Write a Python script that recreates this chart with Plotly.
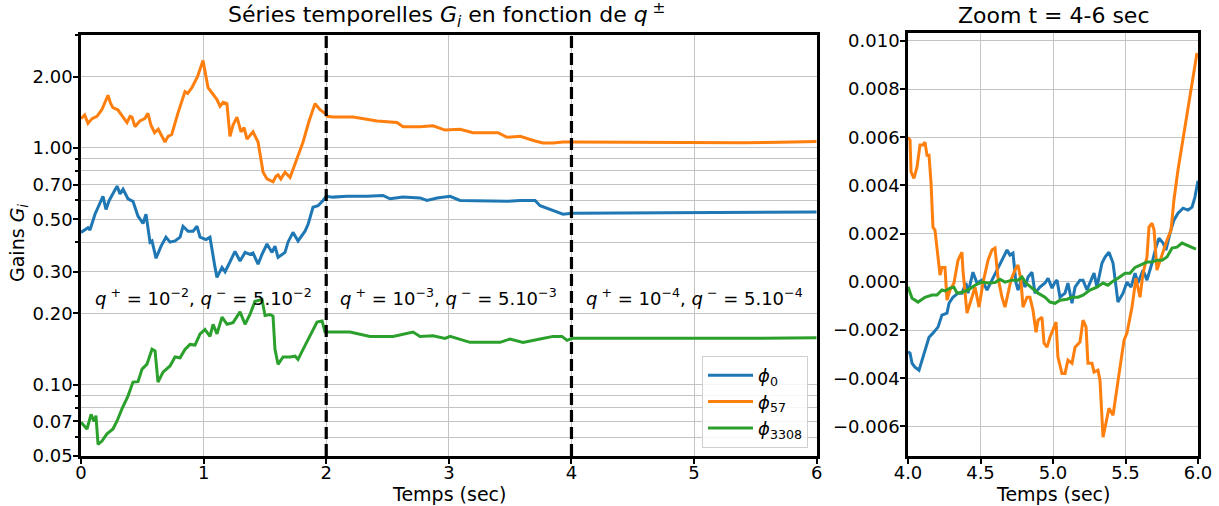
import plotly.graph_objects as go
import math

# ---------------- data ----------------
# Left panel: gains G_i over 0-6 s (log scale)
t_phi0 = [0.0, 0.016, 0.057, 0.073, 0.114, 0.179, 0.204, 0.23, 0.294, 0.318, 0.343, 0.383, 0.424, 0.465,
          0.506, 0.530, 0.563, 0.579, 0.612, 0.653, 0.693, 0.726, 0.767, 0.808, 0.832, 0.873, 0.914, 0.946,
          0.971, 1.020, 1.052, 1.093, 1.109, 1.150, 1.175, 1.215, 1.256, 1.297, 1.338, 1.378, 1.403, 1.444,
          1.476, 1.517, 1.558, 1.582, 1.607, 1.664, 1.688, 1.729, 1.770, 1.827, 1.852, 1.892, 1.933, 1.974,
          2.0, 2.055, 2.17, 2.333, 2.463, 2.52, 2.626, 2.765, 2.822, 2.904, 3.01, 3.091, 3.336, 3.475, 3.581,
          3.703, 3.744, 3.85, 3.931, 4.005, 4.5, 5.0, 5.5, 6.0]
g_phi0 = [0.44, 0.445, 0.46, 0.45, 0.525, 0.625, 0.55, 0.60, 0.69, 0.64, 0.67, 0.61, 0.595, 0.515,
          0.48, 0.525, 0.40, 0.405, 0.342, 0.385, 0.42, 0.40, 0.405, 0.42, 0.467, 0.445, 0.445, 0.467,
          0.42, 0.41, 0.42, 0.313, 0.284, 0.313, 0.30, 0.33, 0.366, 0.333, 0.362, 0.355, 0.36, 0.323,
          0.355, 0.393, 0.362, 0.385, 0.345, 0.362, 0.40, 0.44, 0.405, 0.445, 0.476, 0.562, 0.57, 0.60,
          0.625, 0.62, 0.625, 0.625, 0.63, 0.61, 0.62, 0.615, 0.60, 0.615, 0.625, 0.60, 0.595, 0.595, 0.60,
          0.60, 0.57, 0.546, 0.525, 0.53, 0.532, 0.533, 0.534, 0.536]

t_phi57 = [0.0, 0.03, 0.057, 0.09, 0.13, 0.17, 0.22, 0.24, 0.26, 0.3, 0.33, 0.375, 0.4, 0.416, 0.44, 0.48,
           0.52, 0.546, 0.57, 0.60, 0.63, 0.66, 0.685, 0.71, 0.74, 0.79, 0.848, 0.87, 0.905, 0.95, 0.995,
           1.036, 1.07, 1.109, 1.134, 1.16, 1.19, 1.215, 1.24, 1.272, 1.305, 1.33, 1.354, 1.38, 1.403, 1.444,
           1.485, 1.517, 1.566, 1.59, 1.607, 1.63, 1.664, 1.705, 1.762, 1.811, 1.86, 1.909, 1.949, 1.99,
           2.007, 2.055, 2.22, 2.414, 2.577, 2.626, 2.765, 2.871, 2.969, 3.091, 3.197, 3.401, 3.475, 3.581,
           3.703, 3.768, 3.85, 3.931, 4.005, 4.5, 5.0, 5.4, 5.7, 6.0]
g_phi57 = [1.33, 1.38, 1.27, 1.33, 1.36, 1.45, 1.67, 1.55, 1.48, 1.45, 1.38, 1.28, 1.36, 1.35, 1.23, 1.30,
           1.33, 1.40, 1.25, 1.16, 1.20, 1.12, 1.06, 1.12, 1.14, 1.40, 1.73, 1.70, 1.80, 2.0, 2.34,
           1.80, 1.70, 1.60, 1.50, 1.56, 1.54, 1.12, 1.25, 1.35, 1.17, 1.22, 1.09, 1.13, 1.17, 1.06,
           0.79, 0.74, 0.72, 0.76, 0.77, 0.74, 0.79, 0.75, 0.90, 1.06, 1.30, 1.54, 1.45, 1.40,
           1.36, 1.35, 1.35, 1.30, 1.28, 1.23, 1.23, 1.24, 1.19, 1.20, 1.16, 1.16, 1.11, 1.12,
           1.07, 1.05, 1.05, 1.06, 1.06, 1.057, 1.055, 1.053, 1.058, 1.065]

t_phi3308 = [0.0, 0.049, 0.082, 0.106, 0.122, 0.139, 0.171, 0.212, 0.261, 0.294, 0.334, 0.383, 0.424, 0.465,
             0.498, 0.538, 0.579, 0.604, 0.628, 0.669, 0.726, 0.767, 0.808, 0.848, 0.889, 0.930, 0.971,
             1.011, 1.052, 1.077, 1.109, 1.150, 1.191, 1.240, 1.297, 1.338, 1.378, 1.419, 1.476, 1.501,
             1.542, 1.566, 1.582, 1.607, 1.648, 1.705, 1.746, 1.770, 1.811, 1.884, 1.925, 1.966, 1.99,
             2.015, 2.194, 2.357, 2.545, 2.708, 2.765, 2.871, 2.969, 3.01, 3.173, 3.254, 3.418, 3.499,
             3.605, 3.744, 3.85, 3.923, 3.964, 4.005, 4.5, 5.0, 5.5, 6.0]
g_phi3308 = [0.0695, 0.065, 0.075, 0.07, 0.074, 0.056, 0.0578, 0.062, 0.065, 0.0703, 0.079, 0.0895, 0.1026, 0.103,
             0.1164, 0.1222, 0.1413, 0.139, 0.1026, 0.113, 0.12, 0.131, 0.130, 0.141, 0.148, 0.147, 0.164,
             0.171, 0.160, 0.180, 0.164, 0.193, 0.180, 0.183, 0.203, 0.18, 0.198, 0.225, 0.229, 0.196,
             0.198, 0.195, 0.141, 0.122, 0.131, 0.131, 0.132, 0.128, 0.141, 0.167, 0.184, 0.186, 0.167,
             0.167, 0.167, 0.160, 0.160, 0.167, 0.160, 0.161, 0.157, 0.160, 0.151, 0.151, 0.151, 0.156,
             0.151, 0.156, 0.160, 0.160, 0.154, 0.157, 0.157, 0.1565, 0.157, 0.158]

# Right panel: zoom t = 4-6 s
tz_phi0 = [4.0, 4.014, 4.028, 4.048, 4.076, 4.097, 4.117, 4.145, 4.172, 4.207, 4.234, 4.269, 4.283, 4.310,
           4.345, 4.372, 4.400, 4.414, 4.448, 4.476, 4.510, 4.545, 4.579, 4.621, 4.648, 4.683, 4.703, 4.724,
           4.745, 4.759, 4.786, 4.807, 4.828, 4.855, 4.876, 4.910, 4.945, 4.966, 4.993, 5.014, 5.028, 5.048,
           5.083, 5.103, 5.131, 5.152, 5.186, 5.207, 5.234, 5.255, 5.283, 5.303, 5.338, 5.359, 5.386, 5.414,
           5.434, 5.448, 5.483, 5.510, 5.538, 5.566, 5.586, 5.621, 5.648, 5.683, 5.710, 5.731, 5.759, 5.779,
           5.807, 5.834, 5.862, 5.897, 5.931, 5.959, 5.979, 5.993, 6.0]
vz_phi0 = [-0.0029, -0.00296, -0.00338, -0.00354, -0.00367, -0.00325, -0.00292, -0.0023, -0.00213, -0.00188,
           -0.00138, -0.0013, -0.00089, -0.00064, -0.00047, -0.00047, -0.00005, -0.00047, 0.0004, -0.00005,
           0.00007, -0.00034, 0.00007, 0.00057, 0.0009, 0.00132, 0.00111, 0.00119, -0.00005, -0.00034,
           0.00015, -0.00022, 0.0002, 0.0004, -0.00047, -0.00022, -0.00005, 0.00015, -0.00026, -0.00001,
           0.00007, -0.00064, -0.00047, -0.00005, -0.00089, -0.00022, 0.00007, 0.00007, -0.00034, -0.00005,
           0.00036, -0.00022, 0.00078, 0.00103, 0.00123, 0.00078, -0.00034, -0.00084, -0.00047, -0.00001,
           -0.00022, 0.00036, -0.00005, 0.00049, 0.00007, 0.00078, 0.00144, 0.00181, 0.00161, 0.00132,
           0.00202, 0.00256, 0.00285, 0.00306, 0.00298, 0.0031, 0.00352, 0.0041, 0.0042]

tz_phi57 = [4.0, 4.014, 4.021, 4.041, 4.062, 4.083, 4.103, 4.117, 4.131, 4.145, 4.159, 4.172, 4.186, 4.2, 4.207,
            4.221, 4.234, 4.255, 4.269, 4.29, 4.317, 4.345, 4.372, 4.379, 4.407, 4.428, 4.448, 4.462, 4.49,
            4.517, 4.552, 4.579, 4.6, 4.621, 4.634, 4.648, 4.669, 4.69, 4.71, 4.738, 4.759, 4.779, 4.793,
            4.821, 4.841, 4.862, 4.883, 4.897, 4.924, 4.938, 4.959, 4.979, 5.0, 5.021, 5.034, 5.062, 5.083,
            5.103, 5.131, 5.152, 5.186, 5.207, 5.228, 5.241, 5.269, 5.283, 5.31, 5.324, 5.345, 5.366, 5.386,
            5.414, 5.434, 5.462, 5.49, 5.51, 5.545, 5.572, 5.6, 5.621, 5.648, 5.662, 5.683, 5.697, 5.717,
            5.738, 5.759, 5.786, 5.814, 5.834, 5.862, 5.897, 5.931, 5.966, 5.993]
vz_phi57 = [0.0060, 0.00589, 0.00456, 0.0043, 0.00476, 0.00568, 0.00568, 0.0058, 0.00526, 0.00526, 0.0041,
            0.00227, 0.00215, 0.00119, 0.00103, 0.00028, 0.0006, 0.0006, -0.00076, -0.00034, -0.00005, 0.0009,
            0.00123, 0.00049, -0.0013, -0.00089, -0.00047, -0.00022, -0.00105, -0.00005, 0.0009, 0.00132,
            0.0014, 0.00015, -0.00022, -0.00064, -0.00105, -0.00047, 0.00007, 0.00049, 0.0007, 0.00007,
            -0.00105, -0.00064, -0.00064, -0.00118, -0.00209, -0.00159, -0.00147, -0.00255, -0.00271, -0.0023,
            -0.002, -0.00167, -0.00312, -0.0038, -0.0038, -0.00325, -0.00338, -0.00271, -0.0025, -0.00159,
            -0.00188, -0.00338, -0.00338, -0.00375, -0.00367, -0.00408, -0.00645, -0.00575, -0.00525,
            -0.00554, -0.00463, -0.00355, -0.00242, -0.00213, -0.00105, 0.00015, -0.00064, 0.00036, 0.00103,
            0.00227, 0.00243, 0.00215, 0.00049, 0.0009, 0.00123, 0.00173, 0.00215, 0.0034, 0.00464, 0.00589,
            0.00714, 0.00838, 0.0095]

tz_phi3308 = [4.0, 4.014, 4.028, 4.069, 4.117, 4.166, 4.2, 4.234, 4.255, 4.29, 4.317, 4.338, 4.372, 4.414,
              4.462, 4.510, 4.552, 4.6, 4.634, 4.669, 4.717, 4.759, 4.786, 4.814, 4.855, 4.897, 4.945, 4.979,
              5.014, 5.048, 5.097, 5.131, 5.172, 5.207, 5.255, 5.303, 5.345, 5.379, 5.414, 5.448, 5.497,
              5.531, 5.566, 5.614, 5.648, 5.683, 5.717, 5.752, 5.786, 5.821, 5.855, 5.890, 5.924, 5.959, 5.986]
vz_phi3308 = [-0.0002, -0.00045, -0.00068, -0.00084, -0.00064, -0.00055, -0.00055, -0.00034, -0.00038, -0.00026,
              -0.00022, -0.00047, -0.00043, -0.00034, -0.00014, -0.00001, -0.00005, -0.00003, 0.00011, -0.00001,
              0.00007, 0.00007, 0.0002, -0.00005, -0.00026, -0.00047, -0.00064, -0.00084, -0.00089, -0.00076,
              -0.00072, -0.00064, -0.00064, -0.00055, -0.00034, -0.00022, -0.00005, -0.00014, 0.00003, 0.00015,
              0.00036, 0.00036, 0.0006, 0.00074, 0.00082, 0.00082, 0.0009, 0.0009, 0.00103, 0.0014, 0.00144,
              0.00161, 0.00152, 0.00144, 0.00136]

series_names = ["<i>ϕ</i><sub>0</sub>", "<i>ϕ</i><sub>57</sub>", "<i>ϕ</i><sub>3308</sub>"]
series_colors = ["#1f77b4", "#ff7f0e", "#2ca02c"]

regime_edges = [0, 2, 4, 6]
regime_labels = [
    "<i>q</i><sup> +</sup> = 10<sup>−2</sup>, <i>q</i><sup> −</sup> = 5.10<sup>−2</sup>",
    "<i>q</i><sup> +</sup> = 10<sup>−3</sup>, <i>q</i><sup> −</sup> = 5.10<sup>−3</sup>",
    "<i>q</i><sup> +</sup> = 10<sup>−4</sup>, <i>q</i><sup> −</sup> = 5.10<sup>−4</sup>",
]
regime_label_level = 0.235

y_major = [0.05, 0.07, 0.1, 0.2, 0.3, 0.5, 0.7, 1.0, 2.0]
y_major_text = ["0.05", "0.07", "0.10", "0.20", "0.30", "0.50", "0.70", "1.00", "2.00"]
y_minor = [0.06, 0.08, 0.09, 0.4, 0.6, 0.8, 0.9, 3.0]
y_range = [0.05, 3.0]
x_ticks = [0, 1, 2, 3, 4, 5, 6]
zoom_x_ticks = [4.0, 4.5, 5.0, 5.5, 6.0]
zoom_y_ticks = [-0.006, -0.004, -0.002, 0.0, 0.002, 0.004, 0.006, 0.008, 0.010]
zoom_y_range = [-0.00723, 0.01033]

# ---------------- figure ----------------
W, H = 1219, 506
FONT = "DejaVu Sans"
fig = go.Figure()

left_t = [t_phi0, t_phi57, t_phi3308]
left_g = [g_phi0, g_phi57, g_phi3308]
for name, col, tt, gg in zip(series_names, series_colors, left_t, left_g):
    fig.add_trace(go.Scatter(x=tt, y=gg, mode="lines", name=name,
                             line=dict(color=col, width=3), xaxis="x", yaxis="y"))

right_t = [tz_phi0, tz_phi57, tz_phi3308]
right_v = [vz_phi0, vz_phi57, vz_phi3308]
for name, col, tt, vv in zip(series_names, series_colors, right_t, right_v):
    fig.add_trace(go.Scatter(x=tt, y=vv, mode="lines", name=name, showlegend=False,
                             line=dict(color=col, width=3), xaxis="x2", yaxis="y2"))

# dashed regime boundaries
for b in regime_edges[1:-1]:
    fig.add_shape(type="line", xref="x", yref="y domain", x0=b, x1=b, y0=0, y1=1,
                  line=dict(color="black", width=3.2, dash="12px,5px"))

annotations = []
for i, lab in enumerate(regime_labels):
    annotations.append(dict(x=(regime_edges[i] + regime_edges[i + 1]) / 2,
                            y=math.log10(regime_label_level), xref="x", yref="y",
                            text=lab, showarrow=False, font=dict(family=FONT, size=18, color="black"),
                            xanchor="center", yanchor="middle"))

def px(x):
    return x / W

def py(y):
    return 1 - y / H

annotations += [
    dict(x=px(446), y=py(15), xref="paper", yref="paper", showarrow=False,
         text="Séries temporelles <i>G<sub>i</sub></i> en fonction de <i>q</i><sup> ±</sup>",
         font=dict(family=FONT, size=22, color="black"), xanchor="center", yanchor="middle"),
    dict(x=px(1053), y=py(15), xref="paper", yref="paper", showarrow=False,
         text="Zoom t = 4-6 sec", font=dict(family=FONT, size=22, color="black"),
         xanchor="center", yanchor="middle"),
    dict(x=px(449), y=py(494), xref="paper", yref="paper", showarrow=False,
         text="Temps (sec)", font=dict(family=FONT, size=19, color="black"),
         xanchor="center", yanchor="middle"),
    dict(x=px(1053), y=py(494), xref="paper", yref="paper", showarrow=False,
         text="Temps (sec)", font=dict(family=FONT, size=19, color="black"),
         xanchor="center", yanchor="middle"),
    dict(x=px(18), y=py(243), xref="paper", yref="paper", showarrow=False,
         text="Gains <i>G<sub>i</sub></i>", textangle=-90,
         font=dict(family=FONT, size=19, color="black"), xanchor="center", yanchor="middle"),
]

axis_common = dict(showline=True, mirror=True, linecolor="black", linewidth=2.5,
                   gridcolor="#c4c4c4", gridwidth=1.2, ticks="outside", ticklen=5, tickwidth=1.5,
                   tickcolor="black", tickfont=dict(family=FONT, size=18, color="black"),
                   zeroline=False, automargin=False, showgrid=True)

fig.update_layout(
    width=W, height=H, margin=dict(l=0, r=0, t=0, b=0),
    paper_bgcolor="white", plot_bgcolor="white",
    xaxis=dict(domain=[px(81), px(816.7)], range=[0, 6], tickvals=x_ticks,
               anchor="y", ticklabelstandoff=-6, **axis_common),
    yaxis=dict(domain=[py(456), py(35)], type="log", range=[math.log10(y_range[0]), math.log10(y_range[1])],
               tickmode="array", tickvals=y_major, ticktext=y_major_text, anchor="x", ticklabelstandoff=-3,
               minor=dict(tickmode="array", tickvals=y_minor, showgrid=True, gridcolor="#c4c4c4",
                          gridwidth=1.2, ticks="outside", ticklen=3, tickcolor="black"),
               **axis_common),
    xaxis2=dict(domain=[px(908), px(1198)], range=[4, 6], tickvals=zoom_x_ticks,
                tickformat=".1f", anchor="y2", ticklabelstandoff=-6, **axis_common),
    yaxis2=dict(domain=[py(456), py(33)], range=zoom_y_range, tickvals=zoom_y_ticks,
                tickformat=".3f", anchor="x2", ticklabelstandoff=-3, **axis_common),
    legend=dict(x=px(808), y=py(448), xanchor="right", yanchor="bottom",
                bgcolor="rgba(255,255,255,0.85)", bordercolor="#d0d0d0", borderwidth=1,
                font=dict(family=FONT, size=18, color="black"), tracegroupgap=0, itemwidth=45),
    annotations=annotations,
    showlegend=True,
)

fig.write_html("out.html", config={"displayModeBar": False},
               post_script="document.body.style.margin='0';document.body.style.padding='0';")
